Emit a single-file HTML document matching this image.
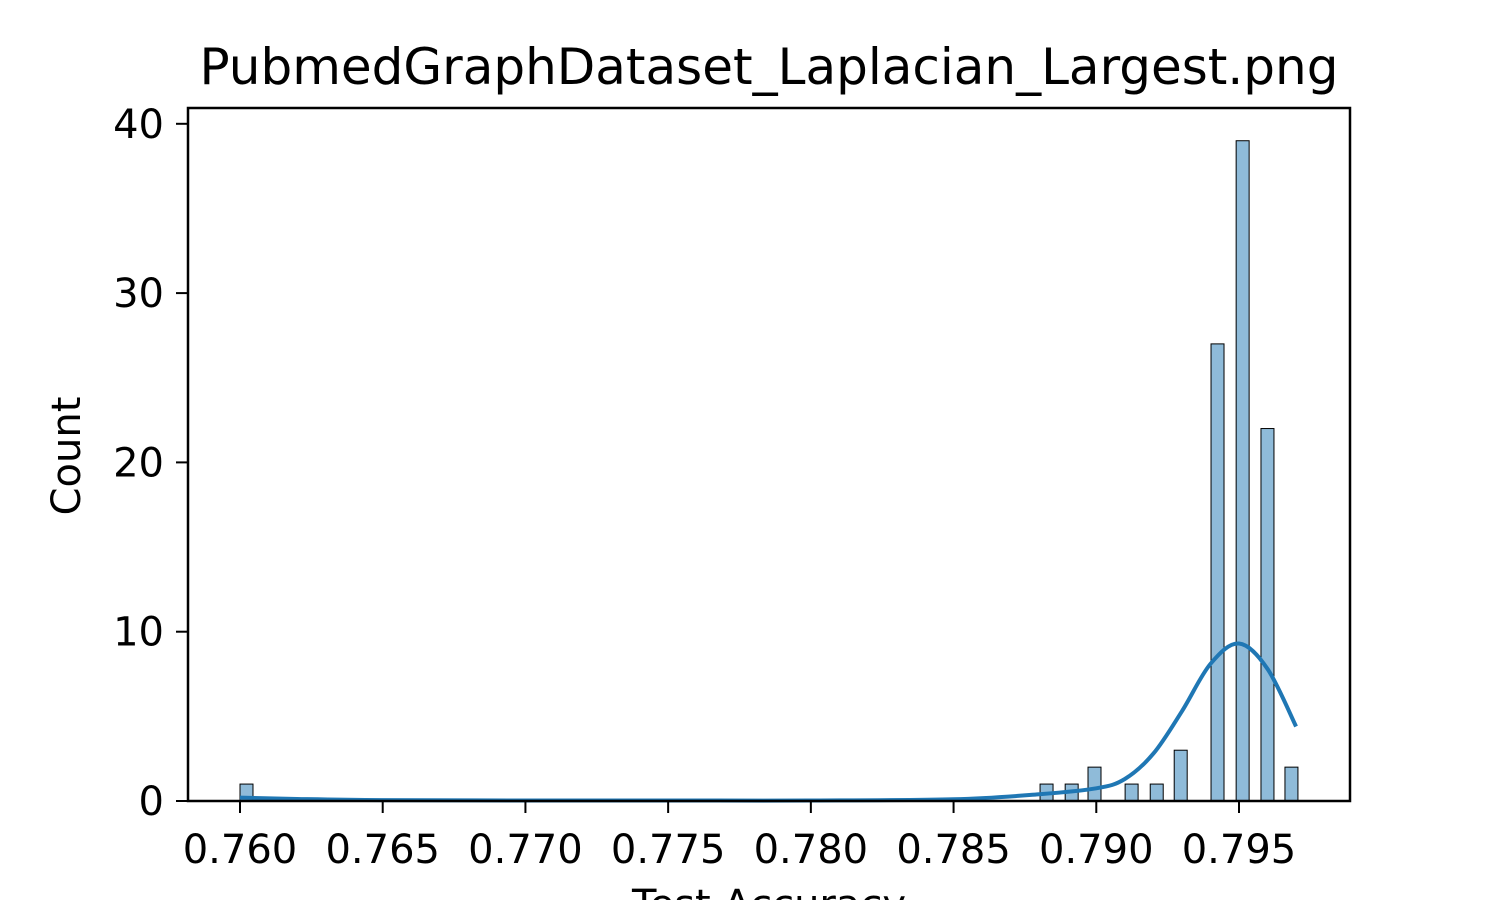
<!DOCTYPE html>
<html><head><meta charset="utf-8"><style>
html,body{margin:0;padding:0;background:#fff;}
svg{display:block;font-family:"DejaVu Sans","Liberation Sans",sans-serif;}
</style></head><body>
<svg id="chart" width="1500" height="900">
<rect width="1500" height="900" fill="#fff"/>
<text x="769" y="84" font-size="50" text-anchor="middle">PubmedGraphDataset_Laplacian_Largest.png</text>
<g id="bars"></g>
<path id="kde" fill="none" stroke="#1f77b4" stroke-width="4"/>
<rect x="188" y="108" width="1162" height="693" fill="none" stroke="#000" stroke-width="2.5"/>
<g id="xticks"></g><g id="yticks"></g>
<text x="80" y="456" font-size="40" text-anchor="middle" transform="rotate(-90 80 456)">Count</text>
<text x="769" y="918" font-size="40" text-anchor="middle">Test Accuracy</text>
</svg>
<script>
const binLefts=[0.76000,0.78803,0.78891,0.78971,0.79101,0.79189,0.79273,0.79402,0.79490,0.79577,0.79661];
const counts=[1,1,1,2,1,1,3,27,39,22,2];
const binWidth=0.000455;
const kdeX=[0.760,0.762,0.765,0.770,0.775,0.780,0.785,0.788,0.790,0.791,0.792,0.793,0.794,0.795,0.796,0.797];
const kdeY=[0.2,0.12,0.05,0.03,0.03,0.03,0.1,0.4,0.75,1.3,2.8,5.3,8.1,9.3,7.8,4.4];
const xTicks=[0.760,0.765,0.770,0.775,0.780,0.785,0.790,0.795];
const xTickLabels=["0.760","0.765","0.770","0.775","0.780","0.785","0.790","0.795"];
const yTicks=[0,10,20,30,40];
const yTickLabels=["0","10","20","30","40"];
const NS="http://www.w3.org/2000/svg";
const xs=v=>240+(v-0.760)/0.035*999;
const ys=v=>801-v*16.93;
const bars=document.getElementById('bars');
binLefts.forEach((b,i)=>{
 const r=document.createElementNS(NS,'rect');
 r.setAttribute('x',xs(b));r.setAttribute('width',xs(b+binWidth)-xs(b));
 r.setAttribute('y',ys(counts[i]));r.setAttribute('height',ys(0)-ys(counts[i]));
 r.setAttribute('fill','rgba(31,119,180,0.5)');r.setAttribute('stroke','#000');r.setAttribute('stroke-width','1');
 
 
 bars.appendChild(r);
});
const P=kdeX.map((x,i)=>[xs(x),ys(kdeY[i])]);
let d='M'+P[0][0]+','+P[0][1];
for(let i=0;i<P.length-1;i++){
 const p0=P[i-1]||P[i],p1=P[i],p2=P[i+1],p3=P[i+2]||P[i+1];
 const c1=[p1[0]+(p2[0]-p0[0])/6,p1[1]+(p2[1]-p0[1])/6];
 const c2=[p2[0]-(p3[0]-p1[0])/6,p2[1]-(p3[1]-p1[1])/6];
 d+=` C${c1[0]},${c1[1]} ${c2[0]},${c2[1]} ${p2[0]},${p2[1]}`;
}
document.getElementById('kde').setAttribute('d',d);
const xt=document.getElementById('xticks');
xTicks.forEach((t,i)=>{
 const x=xs(t);
 const l=document.createElementNS(NS,'line');
 l.setAttribute('x1',x);l.setAttribute('x2',x);l.setAttribute('y1',801);l.setAttribute('y2',813);
 l.setAttribute('stroke','#000');l.setAttribute('stroke-width','2');
 
 
 xt.appendChild(l);
 const tx=document.createElementNS(NS,'text');
 tx.setAttribute('x',x);tx.setAttribute('y',863);tx.setAttribute('font-size','40');tx.setAttribute('text-anchor','middle');
 tx.textContent=xTickLabels[i];
 
 
 xt.appendChild(tx);
});
const yt=document.getElementById('yticks');
yTicks.forEach((t,i)=>{
 const y=ys(t);
 const l=document.createElementNS(NS,'line');
 l.setAttribute('x1',176);l.setAttribute('x2',188);l.setAttribute('y1',y);l.setAttribute('y2',y);
 l.setAttribute('stroke','#000');l.setAttribute('stroke-width','2');
 
 
 yt.appendChild(l);
 const tx=document.createElementNS(NS,'text');
 tx.setAttribute('x',164);tx.setAttribute('y',y+14);tx.setAttribute('font-size','40');tx.setAttribute('text-anchor','end');
 tx.textContent=yTickLabels[i];
 
 
 yt.appendChild(tx);
});
</script>
</body></html>
